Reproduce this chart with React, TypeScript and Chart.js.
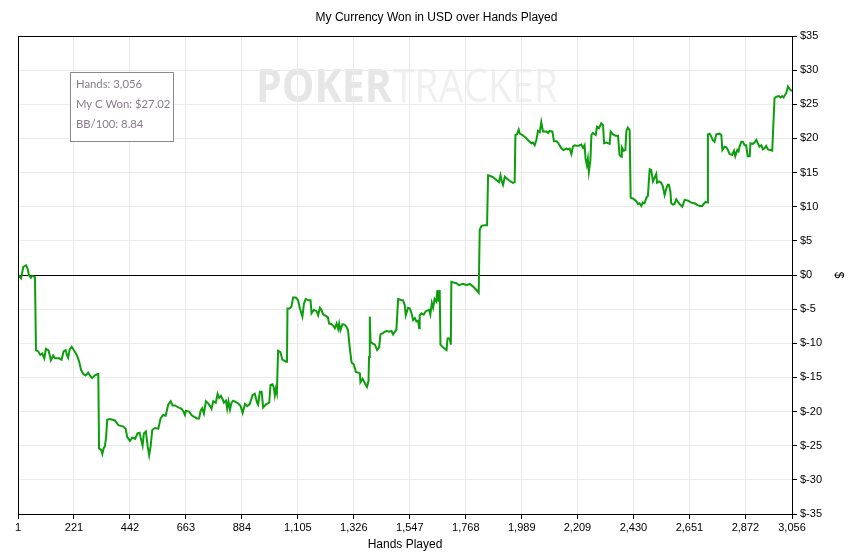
import { useEffect, useRef } from "react";
import { Chart, registerables } from "chart.js";

Chart.register(...registerables);

const TITLE = "My Currency Won in USD over Hands Played";
const X_TITLE = "Hands Played";
const Y_TITLE = "$";
const LEGEND_LINES = ["Hands: 3,056", "My C Won: $27.02", "BB/100: 8.84"];

const X_TICKS = [0, 221, 442, 663, 884, 1105, 1326, 1547, 1768, 1989, 2209, 2430, 2651, 2872, 3056];
const X_TICK_LABELS = ["1", "221", "442", "663", "884", "1,105", "1,326", "1,547", "1,768", "1,989", "2,209", "2,430", "2,651", "2,872", "3,056"];

const HANDS = [
  0, 12, 21, 32, 38, 43, 51, 56, 67, 71, 80, 88, 96, 104, 110, 120, 125, 130, 139, 146,
  162, 172, 180, 188, 193, 198, 204, 212, 222, 232, 241, 249, 258, 267, 277, 284, 293, 304, 314, 317,
  320, 328, 333, 338, 343, 348, 352, 363, 383, 396, 416, 425, 431, 442, 451, 462, 472, 480, 488, 492,
  497, 505, 512, 518, 524, 530, 541, 554, 563, 573, 583, 593, 603, 610, 620, 633, 646, 652, 659, 663,
  676, 685, 692, 698, 705, 715, 721, 727, 734, 742, 751, 758, 764, 771, 781, 788, 794, 801, 808, 813,
  821, 826, 831, 837, 843, 850, 860, 869, 879, 887, 896, 905, 915, 926, 935, 944, 948, 955, 962, 968,
  975, 981, 992, 997, 1005, 1010, 1014, 1018, 1022, 1027, 1036, 1044, 1058, 1062, 1064, 1073, 1080, 1086, 1097, 1106,
  1113, 1123, 1129, 1136, 1146, 1155, 1159, 1168, 1179, 1185, 1192, 1198, 1205, 1215, 1224, 1228, 1238, 1244, 1251, 1258,
  1264, 1268, 1273, 1281, 1290, 1297, 1303, 1310, 1317, 1326, 1334, 1343, 1350, 1352, 1360, 1366, 1373, 1378, 1384, 1386,
  1389, 1392, 1400, 1409, 1418, 1426, 1431, 1441, 1448, 1457, 1465, 1475, 1481, 1494, 1501, 1514, 1520, 1527, 1531, 1540,
  1547, 1553, 1560, 1567, 1573, 1580, 1584, 1586, 1593, 1602, 1610, 1623, 1628, 1634, 1639, 1645, 1652, 1656, 1661, 1665,
  1668, 1676, 1685, 1692, 1696, 1705, 1709, 1711, 1720, 1731, 1741, 1757, 1771, 1784, 1797, 1810, 1819, 1823, 1830, 1843,
  1852, 1856, 1865, 1876, 1889, 1899, 1905, 1910, 1915, 1922, 1931, 1941, 1954, 1961, 1964, 1970, 1977, 1981, 1992, 2005,
  2018, 2027, 2033, 2040, 2047, 2053, 2060, 2066, 2073, 2086, 2093, 2099, 2110, 2116, 2126, 2132, 2145, 2154, 2165, 2171,
  2178, 2185, 2191, 2198, 2211, 2224, 2231, 2237, 2241, 2246, 2250, 2254, 2260, 2264, 2270, 2281, 2286, 2294, 2303, 2310,
  2314, 2323, 2336, 2340, 2349, 2360, 2369, 2375, 2382, 2384, 2391, 2398, 2402, 2408, 2415, 2419, 2428, 2435, 2441, 2448,
  2454, 2461, 2467, 2474, 2481, 2487, 2494, 2500, 2507, 2514, 2520, 2523, 2531, 2540, 2546, 2553, 2560, 2566, 2570, 2576,
  2579, 2586, 2592, 2599, 2606, 2612, 2623, 2632, 2645, 2658, 2671, 2680, 2691, 2702, 2707, 2715, 2721, 2724, 2731, 2737,
  2744, 2750, 2757, 2770, 2777, 2781, 2790, 2797, 2803, 2810, 2820, 2827, 2832, 2840, 2845, 2849, 2856, 2862, 2869, 2875,
  2881, 2889, 2892, 2901, 2908, 2915, 2921, 2928, 2935, 2941, 2948, 2954, 2961, 2970, 2978, 2987, 2994, 3004, 3010, 3017,
  3023, 3029, 3033, 3040, 3046, 3053, 3056,
];

const WON_USD = [
  0, -0.5, 1.2, 1.4, 0.9, 0, -0.4, -0.1, -0.3, -11, -11.2, -11.7, -11.5, -12.2, -10.8, -11, -11.7, -12.5, -11.8, -12.2,
  -12.2, -12.4, -11.2, -11, -11.7, -12.1, -10.9, -10.5, -11.1, -11.7, -12.6, -13.9, -14.5, -14.7, -14.3, -14.7, -15.1, -14.7, -14.5, -14.5,
  -25.4, -25.6, -26.2, -25.4, -25.1, -23.7, -21.2, -21.1, -21.3, -22, -22.2, -22.5, -23.7, -24.3, -23.8, -24, -23.2, -23.1, -24.4, -25,
  -23.2, -22.9, -25.1, -26.4, -25, -22.7, -22.4, -22.5, -21, -20.5, -20.6, -19, -18.5, -19.1, -19.1, -19.4, -19.6, -19.9, -20.5, -19.9,
  -20, -20.5, -20.7, -20.8, -21, -21, -19.9, -19.5, -20.3, -18.5, -18.8, -19.2, -19.6, -18.5, -18.7, -17.4, -18, -17.7, -18.2, -18.7,
  -18.4, -19.6, -18.5, -19.7, -18.7, -18.4, -18.6, -18.8, -19.2, -20.2, -18.9, -19.2, -18.9, -17.6, -17.4, -18.7, -19, -17.1, -17.1, -19.4,
  -19.1, -18.9, -18.7, -16.1, -16, -16.5, -17.6, -16.7, -17.3, -11.1, -11.3, -12.4, -12.7, -12.7, -4.9, -4.9, -4.6, -3.3, -3.3, -3.7,
  -4.9, -6.1, -4.2, -3.5, -3.7, -3.7, -5.6, -5.1, -5.3, -5.9, -4.8, -5.1, -5.8, -6, -6.2, -7.1, -7.2, -7.4, -7.8, -7.1,
  -7.9, -7.1, -8.1, -7.2, -7.3, -7.6, -8.1, -10.7, -12.8, -13.1, -14.2, -14.3, -14.4, -15.7, -15.2, -15.6, -16.1, -16.4, -15.5, -12,
  -6.1, -9.8, -10, -10.2, -11, -10.6, -8.7, -8.5, -8.3, -8.2, -8.3, -8.2, -8.7, -8, -3.5, -3.7, -3.7, -4.4, -5.9, -4.8,
  -4.9, -5.5, -6.6, -6.3, -6.8, -6.7, -7.8, -5.9, -5.6, -5.8, -5.3, -5.1, -5.8, -4.1, -4.8, -3.5, -3.9, -2.2, -3.9, -2.2,
  -10.2, -10.5, -10.8, -11, -9.3, -9.3, -10.2, -1, -1.1, -1.2, -1.5, -1.3, -1.5, -1.3, -1.7, -2.2, -2.6, 6.6, 7.2, 7.3,
  7.3, 14.6, 14.5, 14.3, 13.9, 13.6, 14.6, 13.7, 13.2, 14.4, 14.1, 13.8, 13.5, 13.6, 20.5, 20.6, 21.3, 20.7, 20.5, 20.1,
  19.6, 19.3, 19.4, 19, 19.8, 21.1, 20.9, 22.4, 21, 21, 20.8, 21.1, 21, 19.6, 19.6, 19.4, 18.6, 18.3, 18.5, 18.4,
  18.5, 17.7, 18.8, 19, 18.9, 19.1, 18.6, 19, 17, 16.1, 17, 15.1, 16.8, 20.5, 20.8, 20.5, 21.7, 21.5, 22.2, 21.9,
  19.3, 19.4, 19.2, 21, 20.6, 20.4, 20.4, 17.6, 17.3, 18.7, 18.2, 18.3, 21.1, 21.6, 21.2, 11.3, 11.2, 11, 10.8, 10.4,
  10.5, 10.1, 10.6, 10.5, 11.3, 11.6, 15.5, 15.4, 13.7, 14.3, 14.8, 13.5, 13.7, 13.5, 13, 11.7, 12.7, 13.2, 13.2, 12.2,
  10.5, 10.3, 10.4, 11.1, 10.7, 10.4, 10, 11, 10.9, 10.6, 10.5, 10.3, 10.1, 10.1, 10.4, 10.7, 10.6, 20.6, 20.7, 20.3,
  19.7, 19.5, 20.6, 20.7, 20.5, 18.3, 18.8, 18.7, 18.3, 17.7, 17.6, 18.2, 17.4, 18.3, 18.1, 18.8, 19.5, 19.5, 19, 19,
  17.4, 17.4, 19.3, 19.2, 19.4, 19.8, 19.3, 18.8, 19, 18.4, 18.6, 18.9, 18.4, 18.3, 18.2, 25.9, 26.1, 26.2, 26, 26.2,
  26, 26.4, 26.6, 27.6, 27.3, 27, 27.02,
];

const FONT = '"Liberation Sans", Arial, sans-serif';

const decorPlugin = {
  id: "decor",
  beforeDraw(chart: any) {
    const { ctx } = chart;
    ctx.save();
    // watermark
    ctx.textBaseline = "alphabetic";
    ctx.textAlign = "left";
    ctx.font = 'bold 46px "Open Sans", sans-serif';
    const w1 = ctx.measureText("POKER").width;
    ctx.fillStyle = "#e6e6e6";
    ctx.save();
    ctx.translate(256, 102);
    ctx.scale(136 / w1, 1);
    ctx.fillText("POKER", 0, 0);
    ctx.restore();
    ctx.font = '46px "Open Sans", sans-serif';
    const w2 = ctx.measureText("TRACKER").width;
    ctx.fillStyle = "#f0f0f0";
    ctx.save();
    ctx.translate(393, 102);
    ctx.scale(165 / w2, 1);
    ctx.fillText("TRACKER", 0, 0);
    ctx.restore();
    ctx.restore();
  },
  afterDraw(chart: any) {
    const { ctx, chartArea } = chart;
    ctx.save();
    // border box
    ctx.strokeStyle = "#000";
    ctx.lineWidth = 1;
    ctx.strokeRect(
      Math.round(chartArea.left) + 0.5,
      Math.round(chartArea.top) + 0.5,
      Math.round(chartArea.right - chartArea.left),
      Math.round(chartArea.bottom - chartArea.top)
    );
    // title
    ctx.fillStyle = "#000";
    ctx.font = "12px " + FONT;
    ctx.textAlign = "center";
    ctx.textBaseline = "middle";
    ctx.fillText(TITLE, 436.5, 18);
    // x title
    ctx.fillText(X_TITLE, (chartArea.left + chartArea.right) / 2, 545);
    // y title
    ctx.save();
    ctx.translate(838, (chartArea.top + chartArea.bottom) / 2);
    ctx.rotate(Math.PI / 2);
    ctx.fillText(Y_TITLE, 0, 0);
    ctx.restore();
    // legend box
    ctx.fillStyle = "#fff";
    ctx.fillRect(70.5, 72.5, 103, 69);
    ctx.strokeStyle = "#8a8a8a";
    ctx.strokeRect(70.5, 72.5, 103, 69);
    ctx.fillStyle = "#857d88";
    ctx.font = '11.3px Lato, "Noto Sans", sans-serif';
    ctx.textAlign = "left";
    LEGEND_LINES.forEach((t, i) => {
      ctx.fillText(t, 76, 84.5 + i * 20);
    });
    ctx.restore();
  },
};

export default function App() {
  const ref = useRef<HTMLCanvasElement | null>(null);

  useEffect(() => {
    document.body.style.margin = "0";
    if (!ref.current) return;
    const data = HANDS.map((h, i) => ({ x: h, y: WON_USD[i] }));
    const chart = new Chart(ref.current, {
      type: "line",
      data: {
        datasets: [
          {
            label: "My C Won",
            data,
            borderColor: "#0c9e0c",
            borderWidth: 2,
            pointRadius: 0,
            tension: 0,
            fill: false,
          },
        ],
      },
      options: {
        responsive: false,
        animation: false,
        layout: { padding: { left: 18, top: 36, right: 0, bottom: 0 } },
        plugins: {
          legend: { display: false },
          title: { display: false },
          tooltip: { enabled: false },
        },
        scales: {
          x: {
            type: "linear",
            min: 0,
            max: 3056,
            position: "bottom",
            afterBuildTicks: (scale: any) => {
              scale.ticks = X_TICKS.map((v) => ({ value: v }));
            },
            afterFit: (scale: any) => {
              scale.height = 40;
            },
            ticks: {
              autoSkip: false,
              maxRotation: 0,
              minRotation: 0,
              padding: 2,
              color: "#000",
              font: { family: FONT, size: 11 },
              callback: (_v: any, i: number) => X_TICK_LABELS[i],
            },
            grid: {
              color: "#ebebeb",
              tickColor: "#000",
              tickLength: 5,
              lineWidth: 1,
            },
            border: { color: "#000", width: 1 },
          },
          y: {
            type: "linear",
            position: "right",
            min: -35,
            max: 35,
            afterFit: (scale: any) => {
              scale.width = 58;
            },
            ticks: {
              stepSize: 5,
              padding: 3,
              color: "#000",
              font: { family: FONT, size: 11 },
              callback: (v: any) => "$" + v,
            },
            grid: {
              color: (c: any) => (c.tick && c.tick.value === 0 ? "#000" : "#ebebeb"),
              tickColor: "#000",
              tickLength: 5,
              lineWidth: 1,
            },
            border: { color: "#000", width: 1 },
          },
        },
      },
      plugins: [decorPlugin],
    });
    return () => chart.destroy();
  }, []);

  return (
    <div style={{ width: 850, height: 554, background: "#fff" }}>
      <canvas ref={ref} width={850} height={554} style={{ display: "block" }} />
    </div>
  );
}
